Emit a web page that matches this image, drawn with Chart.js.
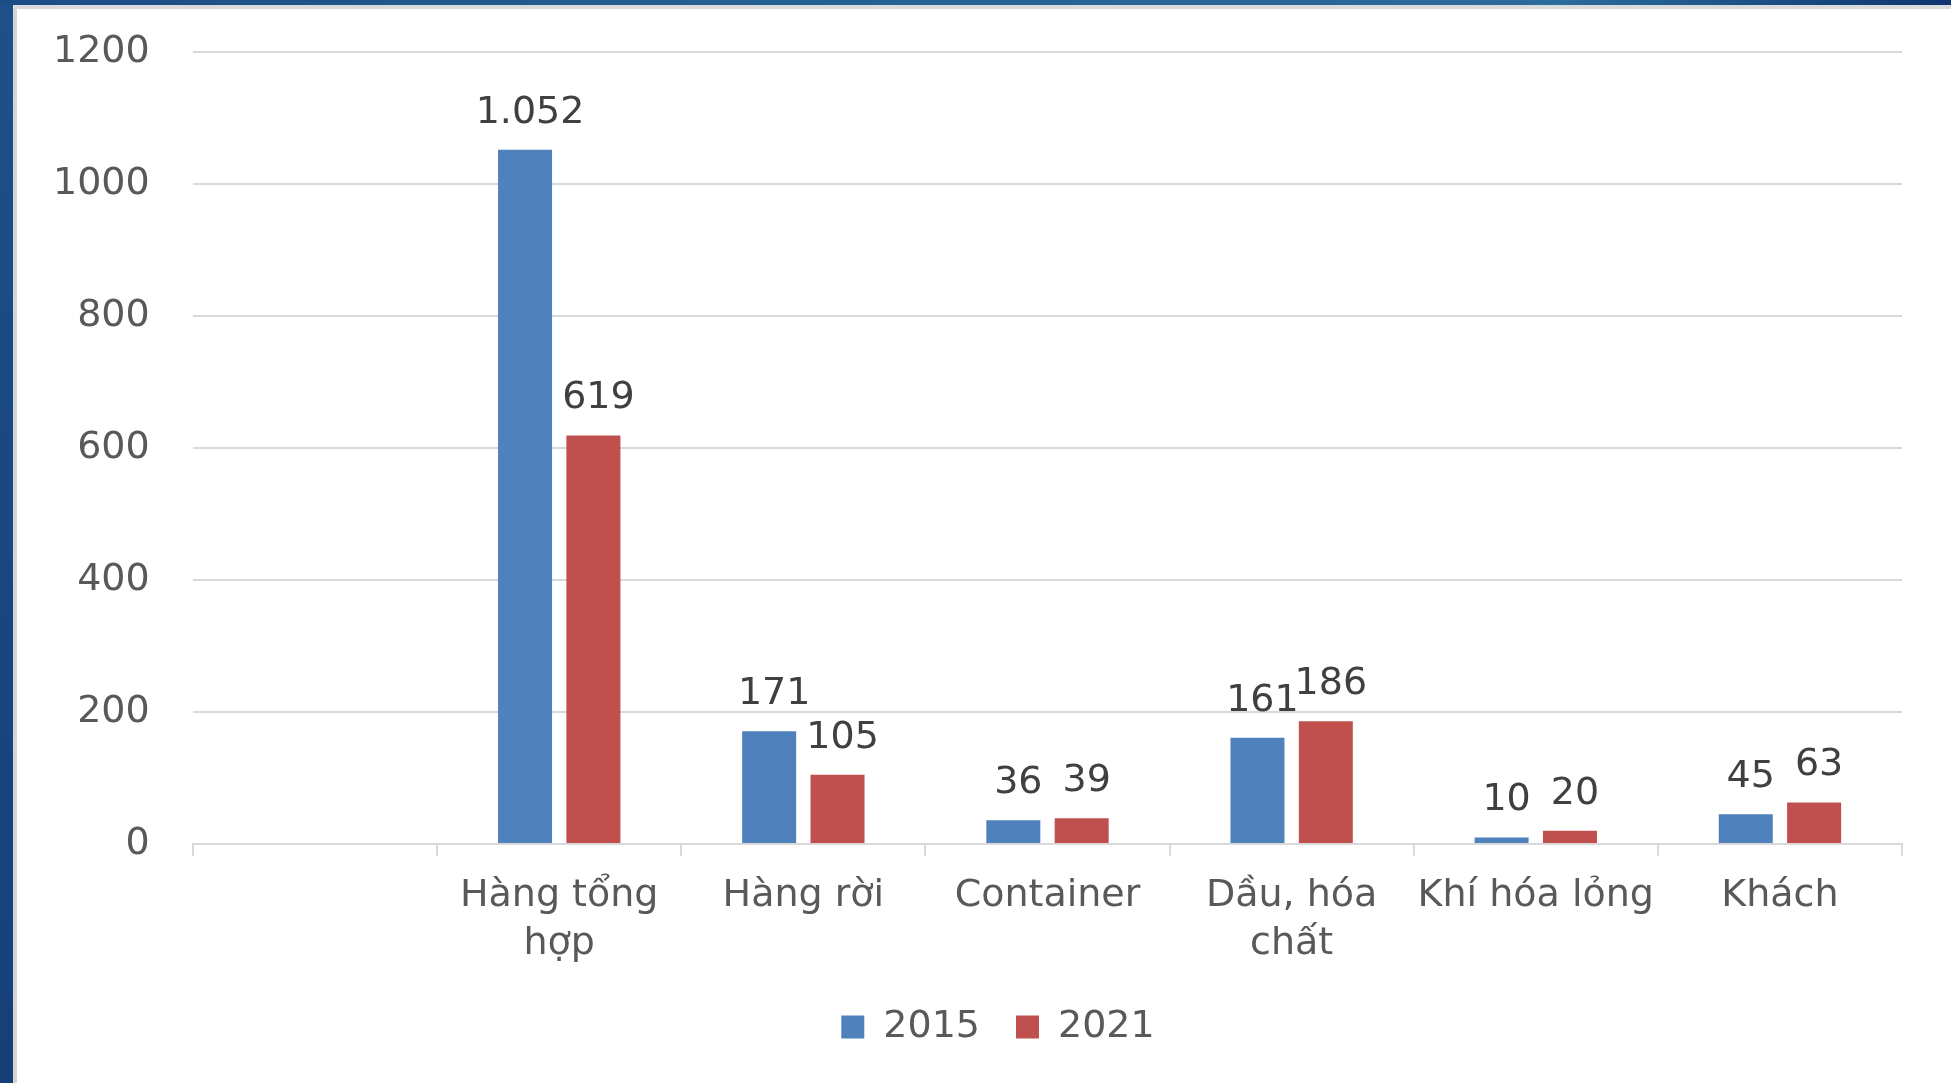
<!DOCTYPE html>
<html lang="vi">
<head>
<meta charset="utf-8">
<title>Hàng hóa qua cảng 2015 - 2021</title>
<script src="https://cdn.jsdelivr.net/npm/chart.js@4.4.1/dist/chart.umd.min.js"></script>
<style>
    html, body { margin: 0; padding: 0; background: #ffffff; overflow: hidden; }
    body { width: 1951px; height: 1083px; position: relative; }
    .frame-left { position: absolute; left: 0; top: 0; width: 13px; height: 1083px; background: linear-gradient(#1d5089, #163f78); }
    .frame-left-shade { position: absolute; left: 13px; top: 5px; width: 4px; height: 1078px; background: #d4d4d4; }
    .frame-top { position: absolute; left: 0; top: 0; width: 1951px; height: 5px; background: linear-gradient(to right, #1b4c86, #24608f 40%, #2a6c9c 80%, #0e346f); }
    .frame-top-shade { position: absolute; left: 13px; top: 5px; width: 1938px; height: 4px; background: #dadada; }
    #chart-box { position: absolute; left: 17px; top: 9px; width: 1934px; height: 1074px; }
</style>
</head>
<body>
<div class="frame-left"></div>
<div class="frame-top"></div>
<div class="frame-left-shade"></div>
<div class="frame-top-shade"></div>
<div id="chart-box"><canvas id="chart" width="1934" height="1074"></canvas></div>

<script>
    // data (first category is left empty on purpose)
    const categories = ["", ["Hàng tổng", "hợp"], "Hàng rời", "Container", ["Dầu, hóa", "chất"], "Khí hóa lỏng", "Khách"];
    const seriesNames = ["2015", "2021"];
    const values2015 = [null, 1052, 171, 36, 161, 10, 45];
    const values2021 = [null, 619, 105, 39, 186, 20, 63];
    const yMin = 0;
    const yMax = 1200;
    const yStep = 200;

    const FONT_FAMILY = "'DejaVu Sans', sans-serif";
    const TEXT_COLOR = "#595959";
    const GRID_COLOR = "#d9d9d9";

    function formatNumber(value) {
        return String(value).replace(/\B(?=(\d{3})+(?!\d))/g, ".");
    }

    const valueLabels = {
        id: "valueLabels",
        afterDatasetsDraw(chart) {
            const ctx = chart.ctx;
            ctx.save();
            ctx.font = "38px " + FONT_FAMILY;
            ctx.fillStyle = "#404040";
            ctx.textAlign = "center";
            ctx.textBaseline = "middle";
            chart.data.datasets.forEach((dataset, i) => {
                chart.getDatasetMeta(i).data.forEach((bar, index) => {
                    const value = dataset.data[index];
                    if (value === null) {
                        return;
                    }
                    ctx.fillText(formatNumber(value), bar.x + 5, bar.y - 37);
                });
            });
            ctx.restore();
        }
    };

    class PortChart {
        constructor(canvasId) {
            this.canvas = document.getElementById(canvasId);
            this.render();
        }

        buildDatasets() {
            const colors = ["#4f81bd", "#c0504d"];
            return [values2015, values2021].map((values, i) => ({
                label: seriesNames[i],
                data: values,
                backgroundColor: colors[i],
                borderWidth: 0,
                categoryPercentage: 0.56,
                barPercentage: 0.79,
            }));
        }

        render() {
            new Chart(this.canvas, {
                type: "bar",
                data: {
                    labels: categories,
                    datasets: this.buildDatasets(),
                },
                plugins: [valueLabels],
                options: {
                    responsive: false,
                    animation: false,
                    devicePixelRatio: 1,
                    layout: {
                        // left padding keeps the legend centred like the original
                        padding: {left: 77, right: 49, top: 43, bottom: 27},
                    },
                    plugins: {
                        tooltip: {enabled: false},
                        legend: {
                            position: "bottom",
                            labels: {
                                color: TEXT_COLOR,
                                font: {family: FONT_FAMILY, size: 38},
                                boxWidth: 23,
                                boxHeight: 23,
                                padding: 36,
                            },
                        },
                    },
                    scales: {
                        x: {
                            grid: {
                                display: true,
                                drawOnChartArea: false,
                                drawTicks: true,
                                tickLength: 12,
                                color: GRID_COLOR,
                                lineWidth: 2,
                                offset: true,
                            },
                            border: {display: true, color: GRID_COLOR, width: 2},
                            ticks: {
                                color: TEXT_COLOR,
                                font: {family: FONT_FAMILY, size: 38, lineHeight: 1.24},
                                padding: 17,
                                maxRotation: 0,
                                autoSkip: false,
                            },
                            afterFit: scale => {
                                scale.height = 128;
                            },
                        },
                        y: {
                            min: yMin,
                            max: yMax,
                            grid: {color: GRID_COLOR, lineWidth: 2, drawTicks: false},
                            border: {display: false},
                            ticks: {
                                stepSize: yStep,
                                color: TEXT_COLOR,
                                font: {family: FONT_FAMILY, size: 38},
                                // mirrored + pulled back so the labels sit left of the plot without clipping
                                mirror: true,
                                crossAlign: "far",
                                padding: -140,
                                callback: value => String(value),
                            },
                            afterFit: scale => {
                                scale.width = 99;
                            },
                        },
                    },
                },
            });
        }
    }

    new PortChart("chart");
</script>
</body>
</html>
